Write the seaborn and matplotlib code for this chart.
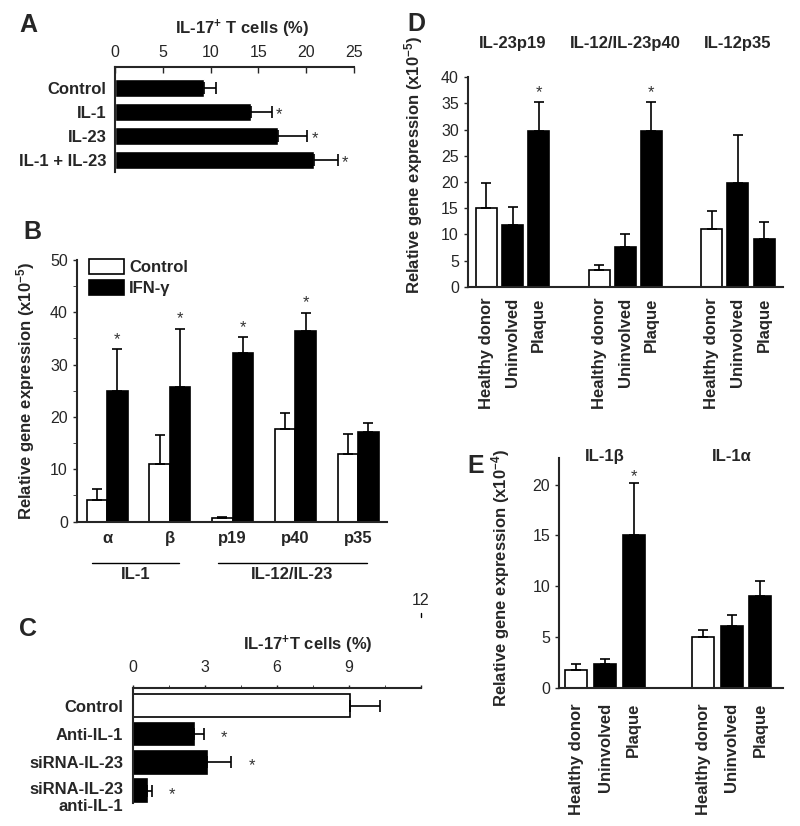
import numpy as np
import pandas as pd
import matplotlib
matplotlib.use('Agg')
import matplotlib.pyplot as plt
from matplotlib.ticker import MultipleLocator
from matplotlib.transforms import ScaledTranslation
import seaborn as sns

# ---- data ----
# A: IL-17+ T cells (%)
a_groups = ['Control', 'IL-1', 'IL-23', 'IL-1 + IL-23']
a_mean = [9.3, 14.2, 17.0, 20.85]
a_err = [1.3, 2.2, 3.1, 2.45]
a_sig = [False, True, True, True]

# B: relative gene expression (x10^-5)
b_genes = ['α', 'β', 'p19', 'p40', 'p35']
b_treat = ['Control', 'IFN-γ']
b_control = [4.1, 11.0, 0.6, 17.6, 12.9]
b_control_err = [2.1, 5.6, 0.3, 3.1, 3.85]
b_ifn = [25.0, 25.7, 32.2, 36.5, 17.2]
b_ifn_err = [7.9, 11.2, 3.0, 3.4, 1.6]
b_sig = [True, True, True, True, False]

# C: IL-17+ T cells (%)
c_groups = ['Control', 'Anti-IL-1', 'siRNA-IL-23', 'siRNA-IL-23\nanti-IL-1']
c_mean = [9.04, 2.54, 3.1, 0.6]
c_err = [1.26, 0.42, 1.0, 0.18]
c_sig = [False, True, True, True]

# D / E: tissue expression
tissues = ['Healthy donor', 'Uninvolved', 'Plaque']
d_genes = ['IL-23p19', 'IL-12/IL-23p40', 'IL-12p35']
d_mean = [[15.0, 11.7, 29.7], [3.2, 7.6, 29.7], [10.95, 19.8, 9.2]]
d_err = [[4.9, 3.6, 5.5], [0.9, 2.5, 5.5], [3.55, 9.2, 3.1]]
d_sig = [[False, False, True], [False, False, True], [False, False, False]]

e_genes = ['IL-1β', 'IL-1α']
e_mean = [[1.74, 2.36, 15.0], [5.0, 6.07, 9.08]]
e_err = [[0.62, 0.43, 5.2], [0.67, 1.13, 1.42]]
e_sig = [[False, False, True], [False, False, False]]

sns.set_style('ticks')
plt.rcParams['font.family'] = ['Liberation Sans', 'DejaVu Sans']
plt.rcParams['mathtext.default'] = 'regular'
plt.rcParams['axes.linewidth'] = 1.5
plt.rcParams['xtick.major.width'] = 1
plt.rcParams['ytick.major.width'] = 1

TICK = 11.5
LAB = 12
ylab = 'Relative gene expression (x10$^{-5}$)'

fig = plt.figure(figsize=(8, 8.26), dpi=100)


def px_axes(l, t, r, b):
    return fig.add_axes([l / 800, 1 - b / 826, (r - l) / 800, (b - t) / 826])


def hbar_errors(ax, errs, sig, star_dx):
    bars = [p for c in ax.containers for p in c]
    for bar, e, s in zip(bars, errs, sig):
        y = bar.get_y() + bar.get_height() / 2
        w = bar.get_width()
        ax.errorbar(w, y, xerr=[[0], [e]], fmt='none', ecolor='black',
                    elinewidth=1.2, capsize=4, capthick=1.2)
        if s:
            ax.text(w + e + star_dx, y + 0.12, '*', ha='center', va='center',
                    fontsize=LAB, color='#333333')


def vbar_errors(ax, bars, errs, sig, star_pt):
    for bar, e, s in zip(bars, errs, sig):
        x = bar.get_x() + bar.get_width() / 2
        h = bar.get_height()
        ax.errorbar(x, h, yerr=[[0], [e]], fmt='none', ecolor='black',
                    elinewidth=1.2, capsize=3.5, capthick=1.2)
        if s:
            ax.annotate('*', xy=(x, h + e), xytext=(0, star_pt),
                        textcoords='offset points', ha='center',
                        va='baseline', fontsize=LAB, color='#333333')


# ---------------- Panel A ----------------
axA = px_axes(115, 67, 354, 172)
sns.barplot(x=a_mean, y=a_groups, orient='h', color='black', saturation=1,
            width=0.78, errorbar=None, ax=axA)
hbar_errors(axA, a_err, a_sig, 0.8)
axA.set_xlim(0, 25)
axA.set_ylim(3.5, -0.88)
axA.xaxis.tick_top()
axA.set_xticks(range(0, 26, 5))
axA.tick_params(axis='x', direction='in', length=4, pad=5, labelsize=TICK)
axA.tick_params(axis='y', length=0, pad=6)
for t in axA.get_yticklabels():
    t.set_fontweight('bold')
    t.set_fontsize(LAB)
axA.set_xlabel('')
axA.set_ylabel('')
for s in ['bottom', 'right']:
    axA.spines[s].set_visible(False)
axA.spines['top'].set_visible(True)
axA.text(0.53, 1.36, 'IL-17$^{+}$ T cells (%)', transform=axA.transAxes,
         ha='center', va='center', fontsize=LAB, fontweight='bold')

# ---------------- Panel B ----------------
axB = px_axes(77, 260, 387, 521.5)
b_df = pd.DataFrame({
    'gene': b_genes * 2,
    'treatment': [b_treat[0]] * len(b_genes) + [b_treat[1]] * len(b_genes),
    'value': b_control + b_ifn,
})
sns.barplot(data=b_df, x='gene', y='value', hue='treatment', hue_order=b_treat,
            palette={'Control': 'white', 'IFN-γ': 'black'}, edgecolor='black',
            linewidth=1.2, width=0.65, saturation=1, errorbar=None,
            legend=False, ax=axB)
vbar_errors(axB, list(axB.containers[0]), b_control_err,
            [False] * len(b_genes), 4)
vbar_errors(axB, list(axB.containers[1]), b_ifn_err, b_sig, 4)
axB.set_xlim(-0.48, 4.46)
axB.set_ylim(0, 50)
axB.yaxis.set_major_locator(MultipleLocator(10))
axB.yaxis.set_minor_locator(MultipleLocator(5))
axB.tick_params(axis='y', which='both', direction='out', length=3,
                labelsize=TICK)
axB.tick_params(axis='x', length=0, pad=7)
for t in axB.get_xticklabels():
    t.set_fontweight('bold')
    t.set_fontsize(LAB)
axB.set_xlabel('')
axB.set_ylabel(ylab, fontsize=LAB, fontweight='bold')
axB.yaxis.set_label_coords(-40 / 310, 0.5)
sns.despine(ax=axB)
axB.legend(handles=list(axB.containers), labels=b_treat, loc='upper left',
           bbox_to_anchor=(0.039, 1.005), frameon=False, borderaxespad=0,
           borderpad=0, handlelength=2.1, handleheight=1.0, labelspacing=0.3,
           handletextpad=0.3, prop={'weight': 'bold', 'size': LAB})
trB = axB.get_xaxis_transform()
for name, lo, hi in [('IL-1', 0, 1), ('IL-12/IL-23', 2, 4)]:
    axB.plot([lo - 0.24, hi + 0.14], [-0.159, -0.159], color='black', lw=1,
             transform=trB, clip_on=False)
    axB.text((lo + hi) / 2 - 0.05, -0.175, name, transform=trB, ha='center',
             va='top', fontsize=LAB, fontweight='bold')

# ---------------- Panel C ----------------
axC = px_axes(133, 687.7, 421, 803)
sns.barplot(x=c_mean, y=c_groups, orient='h', hue=c_groups,
            palette=['white', 'black', 'black', 'black'], edgecolor='black',
            linewidth=1.2, saturation=1, width=0.8, errorbar=None,
            legend=False, ax=axC)
hbar_errors(axC, c_err, c_sig, 0.85)
axC.set_xlim(0, 12)
axC.set_ylim(3.43, -0.64)
axC.xaxis.tick_top()
axC.set_xticks([0, 3, 6, 9, 12])
axC.set_xticklabels(['0', '3', '6', '9', ''])
axC.xaxis.set_minor_locator(MultipleLocator(1.5))
axC.tick_params(axis='x', which='both', direction='out', length=2, pad=7,
                labelsize=TICK)
axC.tick_params(axis='y', length=0, pad=7)
for t in axC.get_yticklabels():
    t.set_fontweight('bold')
    t.set_fontsize(LAB)
    t.set_linespacing(1.15)
# the two-line label sits a little lower in the original
last = axC.get_yticklabels()[-1]
last.set_transform(last.get_transform()
                   + ScaledTranslation(0, -5 / 100, fig.dpi_scale_trans))
axC.set_xlabel('')
axC.set_ylabel('')
for s in ['bottom', 'right']:
    axC.spines[s].set_visible(False)
axC.spines['top'].set_visible(True)
axC.text(0.606, 1.37, 'IL-17$^{+}$T cells (%)', transform=axC.transAxes,
         ha='center', va='center', fontsize=LAB, fontweight='bold')
# stray "12" tick label sitting above the axis in the original
trC = axC.get_xaxis_transform()
axC.text(12, 1.76, '12', transform=trC, ha='center', va='center',
         fontsize=TICK, clip_on=False)
axC.plot([12, 12], [1.61, 1.65], transform=trC, color='black', lw=1,
         clip_on=False)


# ---------------- Panels D and E ----------------
def tissue_panel(ax, genes, means, errs, sig, gap, bw, star_pt):
    rows = []
    for g, gene in enumerate(genes):
        for t, tissue in enumerate(tissues):
            rows.append({'pos': g * gap + t, 'tissue': tissue,
                         'value': means[g][t], 'err': errs[g][t],
                         'sig': sig[g][t]})
    df = pd.DataFrame(rows)
    sns.barplot(data=df, x='pos', y='value', hue='tissue', hue_order=tissues,
                native_scale=True, dodge=False,
                palette={'Healthy donor': 'white', 'Uninvolved': 'black',
                         'Plaque': 'black'},
                edgecolor='black', linewidth=1.2, width=bw, saturation=1,
                errorbar=None, legend=False, ax=ax)
    bars = sorted([p for c in ax.containers for p in c],
                  key=lambda p: p.get_x())
    vbar_errors(ax, bars, df['err'], df['sig'], star_pt)
    ax.set_xticks(df['pos'])
    ax.set_xticklabels(df['tissue'], rotation=90, fontweight='bold',
                       fontsize=LAB)
    ax.set_xlabel('')
    sns.despine(ax=ax)
    return df


axD = px_axes(468, 77.3, 783, 286.7)
tissue_panel(axD, d_genes, d_mean, d_err, d_sig, 4.3, 0.8, 4)
axD.set_xlim(-0.7, 11.32)
axD.set_ylim(0, 40)
axD.yaxis.set_major_locator(MultipleLocator(5))
axD.tick_params(axis='y', direction='out', length=3, labelsize=TICK)
axD.tick_params(axis='x', length=0, pad=8)
axD.set_ylabel(ylab, fontsize=LAB, fontweight='bold')
axD.yaxis.set_label_coords(-43 / 315, 0.58)
trD = axD.get_xaxis_transform()
for g, gene in enumerate(d_genes):
    axD.text(g * 4.3 + 1, 1.163, gene, transform=trD, ha='center',
             va='center', fontsize=LAB, fontweight='bold')

axE = px_axes(559.3, 458.3, 783, 687.7)
tissue_panel(axE, e_genes, e_mean, e_err, e_sig, 4.43, 0.77, 1)
axE.set_xlim(-0.6, 7.22)
axE.set_ylim(0, 22.6)
axE.yaxis.set_major_locator(MultipleLocator(5))
axE.tick_params(axis='y', direction='out', length=3, labelsize=TICK)
axE.tick_params(axis='x', length=0, pad=11)
axE.set_ylabel('Relative gene expression (x10$^{-4}$)', fontsize=LAB,
               fontweight='bold')
axE.yaxis.set_label_coords(-47.6 / 223.7, 0.478)
trE = axE.get_xaxis_transform()
for g, gene in enumerate(e_genes):
    axE.text(g * 4.43 + 1, 1.007, gene, transform=trE, ha='center',
             va='center', fontsize=LAB, fontweight='bold')

# panel letters
for letter, x, y in [('A', 28, 25), ('B', 32, 232), ('C', 28, 629),
                     ('D', 416, 24), ('E', 476, 466)]:
    fig.text(x / 800, 1 - y / 826, letter, ha='center', va='center',
             fontsize=18, fontweight='bold')

fig.savefig('out.png', dpi=100, facecolor='white')
